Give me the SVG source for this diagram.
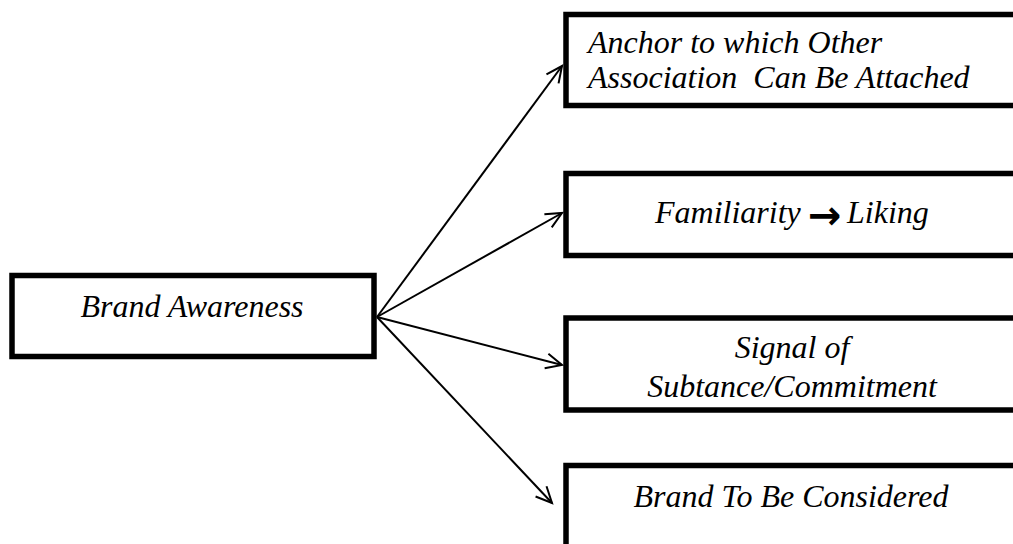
<svg xmlns="http://www.w3.org/2000/svg" width="1013" height="544" viewBox="0 0 1013 544">
<style>
.box{fill:#fff;stroke:#000;stroke-width:5.5}
.t{font-family:"Liberation Serif","Times New Roman",serif;font-style:italic;font-size:32px;fill:#000}
.c{text-anchor:middle}
.arr{font-family:"DejaVu Sans",sans-serif;font-style:normal;font-weight:bold;font-size:40px}
.conn{stroke:#000;stroke-width:2;fill:none}
</style>
<defs>
<marker id="ah" markerUnits="userSpaceOnUse" viewBox="0 0 20 20" markerWidth="20" markerHeight="20" refX="17" refY="10" orient="auto">
<path d="M1,2.5 L17,10 L1,17.5" fill="none" stroke="#000" stroke-width="2"/>
</marker>
</defs>
<rect width="1013" height="544" fill="#fff"/>
<g id="connectors">
<line class="conn" x1="377" y1="317" x2="562" y2="66" marker-end="url(#ah)"/>
<line class="conn" x1="377" y1="317" x2="562" y2="213" marker-end="url(#ah)"/>
<line class="conn" x1="377" y1="317" x2="562" y2="365" marker-end="url(#ah)"/>
<line class="conn" x1="377" y1="317" x2="552" y2="503" marker-end="url(#ah)"/>
</g>
<g id="brand-awareness">
<rect class="box" x="12" y="275.5" width="362" height="81"/>
<text class="t c" x="192" y="317">Brand Awareness</text>
</g>
<g id="anchor">
<rect class="box" x="566" y="14.5" width="460" height="91"/>
<text class="t" x="588" y="53">Anchor to which Other</text>
<text class="t" x="588" y="88" xml:space="preserve">Association  Can Be Attached</text>
</g>
<g id="familiarity">
<rect class="box" x="566" y="173.5" width="460" height="82"/>
<text class="t" x="655" y="223">Familiarity <tspan class="arr" x="808" y="229">→</tspan><tspan x="847" y="223">Liking</tspan></text>
</g>
<g id="signal">
<rect class="box" x="566" y="318" width="460" height="92"/>
<text class="t c" x="792" y="358">Signal of</text>
<text class="t c" x="792" y="397">Subtance/Commitment</text>
</g>
<g id="considered">
<rect class="box" x="566" y="465.5" width="460" height="100"/>
<text class="t c" x="791" y="507">Brand To Be Considered</text>
</g>
</svg>
